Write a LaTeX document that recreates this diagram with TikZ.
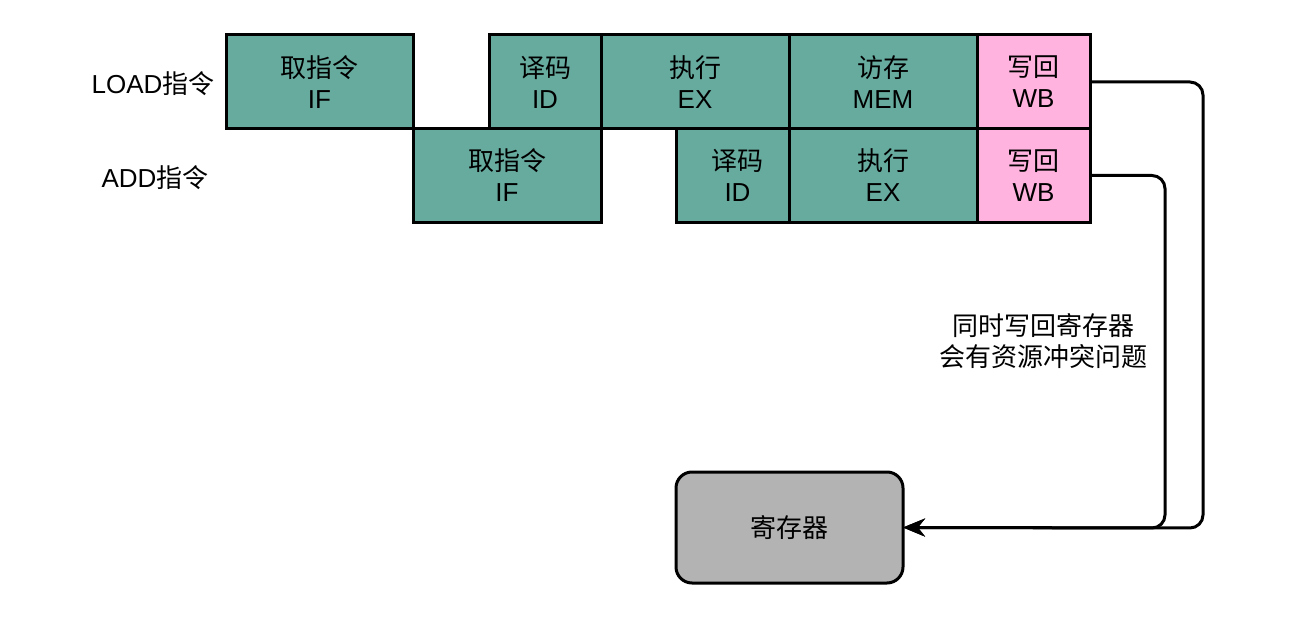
\documentclass[tikz,border=0pt]{standalone}
\usepackage{fontspec}
\setmainfont{Liberation Sans}
\newfontfamily\cjk{Noto Sans CJK SC}
\usetikzlibrary{arrows.meta}
\definecolor{teal1}{HTML}{67AB9F}
\definecolor{pink1}{HTML}{FFB3DE}
\definecolor{gray1}{HTML}{B3B3B3}
\tikzset{
  stagebox/.style={draw=black, line width=3pt, fill=teal1, minimum height=94pt, inner sep=0pt, outer sep=0pt, align=center, font=\fontsize{26}{31}\selectfont},
  wbbox/.style={stagebox, fill=pink1},
  lbl/.style={font=\fontsize{26}{31}\selectfont, align=center, inner sep=0pt},
  conn/.style={draw=black, line width=3pt, rounded corners=13pt},
}
\begin{document}
\begin{tikzpicture}[x=1pt,y=-1pt]
\useasboundingbox (0,0) rectangle (1296,620);
% LOAD row
\node[stagebox, minimum width=187pt] (lif) at (319.5,82) {{\cjk 取指令}\\IF};
\node[stagebox, minimum width=112pt] (lid) at (545,82) {{\cjk 译码}\\ID};
\node[stagebox, minimum width=188pt] (lex) at (695,82) {{\cjk 执行}\\EX};
\node[stagebox, minimum width=188pt] (lmem) at (883,82) {{\cjk 访存}\\MEM};
\node[wbbox, minimum width=113pt] (lwb) at (1033.5,82) {{\cjk 写回}\\WB};
% ADD row
\node[stagebox, minimum width=188pt] (aif) at (507,175.5) {{\cjk 取指令}\\IF};
\node[stagebox, minimum width=113pt, text width=113pt, align=center] (aid) at (732.5,175.5) {\hspace*{10pt}{\cjk 译码}\\\hspace*{10pt}ID};
\node[stagebox, minimum width=188pt] (aex) at (883,175.5) {{\cjk 执行}\\EX};
\node[wbbox, minimum width=113pt] (awb) at (1033.5,175.5) {{\cjk 写回}\\WB};
% labels
\node[lbl] (lload) at (153,84) {LOAD{\cjk 指令}};
\node[lbl] (ladd) at (155,178) {ADD{\cjk 指令}};
% register
\node[draw=black, line width=3pt, fill=gray1, rounded corners=16pt, minimum width=227pt, minimum height=111pt, outer sep=0pt, font=\fontsize{26}{31}\selectfont] (reg) at (789.5,527.5) {\cjk 寄存器};
% note
\node[lbl] (note) at (1043,341) {\cjk 同时写回寄存器\\\cjk 会有资源冲突问题};
% connectors
\coordinate (c1) at (1203,528);
\coordinate (c2) at (1165,528);
\draw[conn, -{Stealth[length=22pt,width=18pt]}] (lwb.east) -| (c1) -- (reg.east);
\draw[conn, -{Stealth[length=22pt,width=18pt]}] (awb.east) -| (c2) -- (reg.east);
\end{tikzpicture}
\end{document}
